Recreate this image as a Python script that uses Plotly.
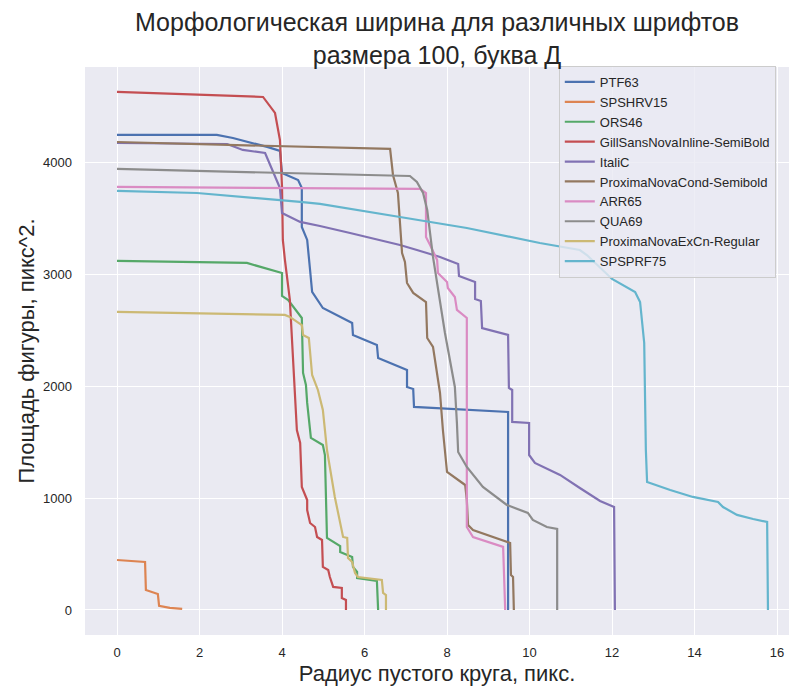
import plotly.graph_objects as go

names = ["PTF63", "SPSHRV15", "ORS46", "GillSansNovaInline-SemiBold", "ItaliC",
         "ProximaNovaCond-Semibold", "ARR65", "QUA69", "ProximaNovaExCn-Regular", "SPSPRF75"]
colors = ["#4C72B0", "#DD8452", "#55A868", "#C44E52", "#8172B3",
          "#937860", "#DA8BC3", "#8C8C8C", "#CCB974", "#64B5CD"]

ptf63_x = [0, 2.42, 2.81, 3.3, 3.64, 3.95, 4.0, 4.39, 4.48, 4.48, 4.61, 4.68, 4.73, 4.99, 5.70, 5.72,
           6.30, 6.33, 7.03, 7.03, 7.18, 7.2, 9.48, 9.48]
ptf63_y = [4249, 4249, 4222, 4177, 4142, 4106, 3909, 3846, 3775, 3426, 3310, 3041, 2845, 2701, 2567, 2460,
           2370, 2254, 2147, 1995, 1977, 1816, 1771, 0]

spshrv15_x = [0, 0.68, 0.70, 0.99, 1.02, 1.28, 1.58]
spshrv15_y = [447, 429, 179, 143, 36, 18, 9]

ors46_x = [0, 3.15, 4.0, 4.0, 4.15, 4.48, 4.51, 4.58, 4.61, 4.70, 4.99, 5.04, 5.09, 5.41, 5.41, 5.70,
           5.72, 5.82, 5.82, 6.30, 6.33]
ors46_y = [3122, 3104, 3014, 2809, 2773, 2612, 2120, 2013, 1852, 1539, 1476, 1386, 644, 572, 519, 474,
           385, 340, 286, 259, 0]

gill_x = [0, 3.54, 3.83, 3.95, 4.0, 4.02, 4.07, 4.19, 4.36, 4.44, 4.48, 4.51, 4.61, 4.61, 4.68, 4.80,
          4.85, 4.97, 4.99, 5.12, 5.16, 5.24, 5.45, 5.45, 5.55, 5.55]
gill_y = [4634, 4589, 4446, 4204, 3784, 3310, 3131, 2773, 1610, 1494, 1100, 1073, 984, 894, 778, 742,
          653, 626, 385, 358, 295, 206, 197, 107, 89, 0]

italic_x = [0, 2.67, 3.05, 3.59, 3.95, 4.0, 4.44, 4.92, 5.65, 6.86, 7.27, 7.83, 8.27, 8.29, 8.68, 8.68,
            8.82, 8.85, 9.48, 9.50, 9.58, 9.58, 9.99, 9.99, 10.13, 10.74, 11.22, 11.71, 12.05, 12.07]
italic_y = [4177, 4168, 4115, 4088, 3775, 3551, 3471, 3435, 3372, 3265, 3220, 3158, 3095, 2988, 2934, 2782,
            2764, 2522, 2460, 1986, 1968, 1682, 1673, 1386, 1315, 1208, 1091, 975, 921, 0]

pncond_x = [0, 6.62, 6.69, 6.81, 6.91, 6.98, 7.03, 7.18, 7.49, 7.52, 7.66, 7.83, 7.9, 8.0, 8.44, 8.48,
            8.51, 8.63, 9.53, 9.55, 9.6, 9.62]
pncond_y = [4186, 4124, 3891, 3730, 3193, 3113, 2925, 2836, 2755, 2433, 2353, 1941, 1610, 1234, 1118, 984,
            760, 716, 599, 313, 295, 0]

arr65_x = [0, 7.35, 7.49, 7.49, 7.59, 7.76, 7.78, 8.0, 8.02, 8.19, 8.24, 8.48, 8.48, 8.63, 9.36, 9.41]
arr65_y = [3784, 3766, 3730, 3337, 3265, 3131, 3014, 2934, 2880, 2800, 2684, 2612, 742, 653, 564, 0]

qua69_x = [0, 7.10, 7.27, 7.42, 7.52, 7.66, 7.95, 8.19, 8.24, 8.27, 8.48, 8.87, 9.45, 9.77, 9.96, 10.08,
           10.42, 10.67, 10.67]
qua69_y = [3945, 3882, 3828, 3730, 3578, 3158, 2478, 1995, 1673, 1413, 1279, 1100, 939, 894, 868, 805,
           742, 725, 0]

pnexcn_x = [0, 4.07, 4.19, 4.48, 4.51, 4.65, 4.73, 4.87, 4.99, 5.09, 5.28, 5.48, 5.58, 5.60, 5.70, 5.77,
            5.84, 6.42, 6.45, 6.52, 6.52]
pnexcn_y = [2666, 2639, 2621, 2549, 2460, 2433, 2102, 1968, 1789, 1431, 1011, 653, 644, 465, 429, 331,
            295, 268, 152, 134, 0]

spsprf75_x = [0, 1.94, 4.44, 4.92, 6.86, 8.48, 10.25, 11.22, 11.39, 12.0, 12.56, 12.68, 12.78, 12.8, 12.82,
              12.85, 13.41, 13.96, 14.57, 14.69, 15.03, 15.42, 15.76, 15.78]
spsprf75_y = [3748, 3730, 3650, 3632, 3515, 3417, 3283, 3220, 3175, 2961, 2845, 2755, 2388, 1789, 1431,
              1145, 1073, 1011, 966, 921, 850, 814, 787, 0]

series_x = [ptf63_x, spshrv15_x, ors46_x, gill_x, italic_x, pncond_x, arr65_x, qua69_x, pnexcn_x, spsprf75_x]
series_y = [ptf63_y, spshrv15_y, ors46_y, gill_y, italic_y, pncond_y, arr65_y, qua69_y, pnexcn_y, spsprf75_y]

x_ticks = [0, 2, 4, 6, 8, 10, 12, 14, 16]
y_ticks = [0, 1000, 2000, 3000, 4000]

title_text = "Морфологическая ширина для различных шрифтов<br>размера 100, буква Д"
x_title = "Радиус пустого круга, пикс."
y_title = "Площадь фигуры, пикс^2."

FONT = "Liberation Sans, Arial, sans-serif"
TXT = "#262626"

fig = go.Figure()
for i, (n, c, xs, ys) in enumerate(zip(names, colors, series_x, series_y)):
    fig.add_trace(go.Scatter(x=xs, y=ys, mode="lines", name=n, legendgroup=f"g{i}",
                             line=dict(color=c, width=2.2)))

fig.add_annotation(text=title_text, xref="paper", yref="paper", x=0.5, y=1.051,
                   xanchor="center", yanchor="middle", showarrow=False,
                   font=dict(size=25, color=TXT, family=FONT))

fig.update_layout(
    width=789, height=688,
    margin=dict(l=85, r=0, t=67, b=53, autoexpand=False),
    paper_bgcolor="white", plot_bgcolor="#EAEAF2",
    font=dict(family=FONT, color=TXT, size=13),
    legend=dict(x=0.673, xanchor="left", y=1.0018, yanchor="top",
                bgcolor="rgba(234,234,242,0.8)", bordercolor="rgba(204,204,204,1)", borderwidth=1,
                font=dict(size=13, color=TXT, family=FONT), tracegroupgap=0),
    showlegend=True,
)
fig.update_xaxes(range=[-0.776, 16.29], tickvals=x_ticks, showgrid=True, gridcolor="white", gridwidth=1,
                 zeroline=False, showline=False, ticks="", ticklabelstandoff=8, automargin=False,
                 tickfont=dict(size=13, color=TXT, family=FONT),
                 title=dict(text=x_title, font=dict(size=22, color=TXT, family=FONT), standoff=6))
fig.update_yaxes(range=[-224, 4857], tickvals=y_ticks, showgrid=True, gridcolor="white", gridwidth=1,
                 zeroline=False, showline=False, ticks="", ticklabelstandoff=12, automargin=False,
                 tickfont=dict(size=13, color=TXT, family=FONT),
                 title=dict(text=y_title, font=dict(size=22, color=TXT, family=FONT), standoff=2))

fig.write_html("out.html", config={"displayModeBar": False},
               post_script="document.body.style.margin='0px';")
